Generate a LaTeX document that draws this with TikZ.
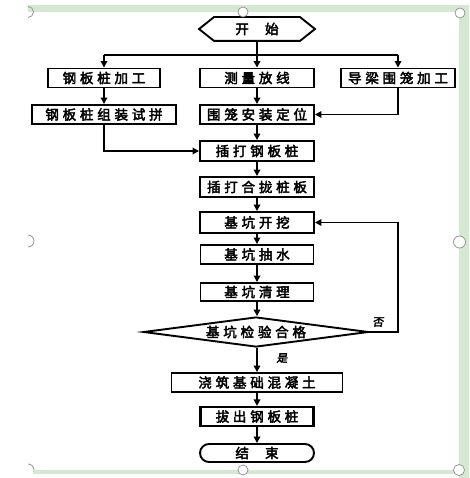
\documentclass[tikz,border=0pt]{standalone}
\usepackage{fontspec}
\usetikzlibrary{shapes.geometric,arrows.meta}
\newfontfamily\cjk[FakeBold=3,LetterSpace=28]{Noto Sans CJK SC}
\newfontfamily\cjklab[FakeBold=3,FakeSlant=0.15]{Noto Sans CJK SC}
\definecolor{framegreen}{RGB}{212,234,208}
\begin{document}
\begin{tikzpicture}[x=1pt,y=-1pt,
  box/.style={draw,line width=1.9pt,minimum height=19pt,inner sep=0pt,
    font=\cjk\fontsize{13.5}{13.5}\selectfont},
  link/.style={line width=1.8pt,-{Triangle[length=6.5pt,width=6.5pt]}},
  plain/.style={line width=1.8pt},
  lab/.style={inner sep=0pt,font=\cjklab\fontsize{11}{11}\selectfont},
  handle/.style={draw=black!45,line width=0.7pt,fill=white}]
\useasboundingbox (0,0) rectangle (469,478);
\fill[white] (0,0) rectangle (469,478);
% selection frame
\fill[framegreen] (28,5) rectangle (469,12);
\fill[framegreen] (459,5) rectangle (469,478);
\fill[framegreen] (33,470) rectangle (459,474);

% nodes
\node[box,draw=none,minimum width=114pt,minimum height=22pt] (start) at (257,29) {开\hspace{1.2em}始};
\draw[line width=1.9pt] (start.west) -- ([xshift=15pt]start.north west) -- ([xshift=-15pt]start.north east)
  -- (start.east) -- ([xshift=-15pt]start.south east) -- ([xshift=15pt]start.south west) -- cycle;

\node[box,minimum width=112pt] (a1) at (104,78) {钢板桩加工};
\node[box,minimum width=114pt] (a2) at (257,78) {测量放线};
\node[box,minimum width=114pt] (a3) at (398,78) {导梁围笼加工};
\node[box,minimum width=144pt] (b1) at (104,114.5) {钢板桩组装试拼};
\node[box,minimum width=114pt] (b2) at (257,114.5) {围笼安装定位};
\node[box,minimum width=114pt,minimum height=20pt] (c) at (257,151) {插打钢板桩};
\node[box,minimum width=114pt,minimum height=20pt] (d) at (257,187) {插打合拢桩板};
\node[box,minimum width=114pt,minimum height=21pt] (e) at (257,222.5) {基坑开挖};
\node[box,minimum width=113pt] (f) at (257,254.5) {基坑抽水};
\node[box,minimum width=113pt,minimum height=18pt] (g) at (257,292) {基坑清理};
\node[box,shape=diamond,aspect=7.5,minimum width=225pt,minimum height=30pt] (dia) at (256,332) {基坑检验合格};
\node[box,minimum width=171pt] (h) at (257,382.5) {浇筑基础混凝土};
\node[box,minimum width=113pt,line width=2.2pt] (i) at (257,416.5) {拔出钢板桩};
\node[box,minimum width=114pt,minimum height=18pt,rounded corners=9pt] (fin) at (257,453) {结\hspace{1.2em}束};

\coordinate (j) at (257,55);
\coordinate (loop) at (398,332);

% connectors
\draw[plain] (start.south) -- (j);
\draw[plain] (j -| a1) -- (j -| a3);
\draw[link] (j -| a1) -- (a1.north);
\draw[link] (j) -- (a2.north);
\draw[link] (j -| a3) -- (a3.north);
\draw[link] (a1) -- (b1);
\draw[link] (a2) -- (b2);
\draw[link] (a3.south) |- (b2.east);
\draw[link] (b1.south) |- (c.west);
\draw[link] (b2) -- (c);
\draw[link] (c) -- (d);
\draw[link] (d) -- (e);
\draw[link] (e) -- (f);
\draw[link] (f) -- (g);
\draw[link] (g.south) -- (g.south |- dia.north);
\draw[link] (dia.south -| h) -- (h.north);
\draw[link] (h) -- (i);
\draw[link] (i) -- (fin);
\draw[link] (dia.east) -- (loop) |- (e.east);
\node[lab] (no) at (378,322) {否};
\node[lab] (yes) at (282,358) {是};

% selection handles
\draw[handle] (243,12) circle[radius=5];
\draw[handle] (460,13) circle[radius=5];
\draw[handle] (459.5,242) circle[radius=6];
\draw[handle] (243,470) circle[radius=5];
\draw[handle] (459,470) circle[radius=5.5];
\draw[draw=black!45,line width=0.7pt] (28,12) ++(90:5.5) arc[start angle=90,end angle=-90,radius=5.5];
\draw[draw=black!45,line width=0.7pt] (28,241) ++(90:6) arc[start angle=90,end angle=-90,radius=6];
\draw[draw=black!45,line width=0.7pt] (28,470) ++(-90:6) arc[start angle=-90,end angle=0,radius=6];
\end{tikzpicture}
\end{document}
